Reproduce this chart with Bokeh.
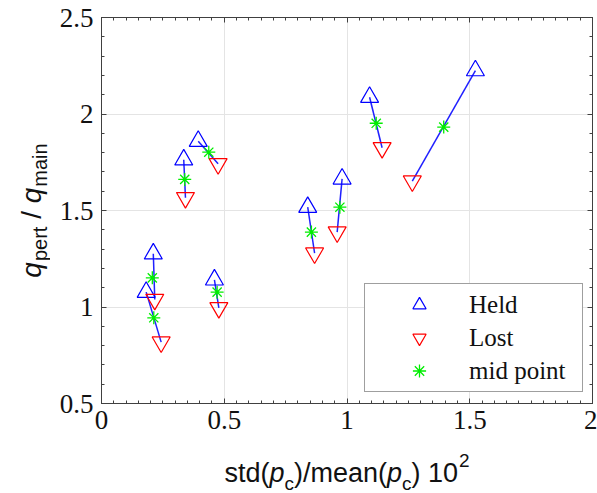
from math import pi
from bokeh.plotting import figure
from bokeh.layouts import row, column
from bokeh.models import (Legend, LegendItem, LinearAxis, Range1d, ColumnDataSource,
                          SingleIntervalTicker, CustomJSTickFormatter)
from bokeh.core.properties import value, field
from bokeh.embed import file_html
from bokeh.resources import INLINE

# ---- data ----
held_x = [0.211, 0.182, 0.460, 0.394, 0.335, 0.840, 0.980, 1.092, 1.523]
held_y = [1.276, 1.077, 1.141, 1.859, 1.763, 1.517, 1.664, 2.087, 2.225]
lost_x = [0.217, 0.243, 0.478, 0.475, 0.342, 0.868, 0.960, 1.143, 1.266]
lost_y = [1.039, 0.818, 0.996, 1.742, 1.566, 1.279, 1.388, 1.825, 1.652]
mid_x = [0.207, 0.213, 0.471, 0.437, 0.339, 0.855, 0.971, 1.119, 1.394]
mid_y = [1.151, 0.944, 1.077, 1.802, 1.661, 1.388, 1.517, 1.952, 1.932]

x_ticks = [0, 0.5, 1, 1.5, 2]
x_tick_labels = ["0", "0.5", "1", "1.5", "2"]
y_ticks = [0.5, 1, 1.5, 2, 2.5]
y_tick_labels = ["0.5", "1", "1.5", "2", "2.5"]
legend_labels = ["Held", "Lost", "mid point"]

FRAME_C = "#404040"
TEXT_C = "#111111"
SERIF = "Liberation Serif"
SANS = "Liberation Sans"

# page geometry
PAGE_W, PAGE_H = 597, 493
YLAB_W = 50          # left strip holding the y title
XLAB_H = 48          # bottom strip holding the x title
FL, FR, FT, FB = 101, 592, 17, 403   # frame edges on the page

MAIN_W = PAGE_W - YLAB_W
MAIN_H = PAGE_H - XLAB_H

p = figure(width=MAIN_W, height=MAIN_H, output_backend="svg", toolbar_location=None,
           x_range=Range1d(x_ticks[0], x_ticks[-1]), y_range=Range1d(y_ticks[0], y_ticks[-1]),
           min_border_left=FL - YLAB_W, min_border_right=PAGE_W - FR,
           min_border_top=FT, min_border_bottom=MAIN_H - FB,
           background_fill_color="white", border_fill_color="white")
p.outline_line_color = FRAME_C
p.outline_line_width = 1

xt = SingleIntervalTicker(interval=0.5, num_minor_ticks=10)
yt = SingleIntervalTicker(interval=0.5, num_minor_ticks=5)

def style_axis(ax):
    ax.axis_line_color = FRAME_C
    ax.major_tick_line_color = FRAME_C
    ax.minor_tick_line_color = FRAME_C
    ax.major_tick_in = 5
    ax.major_tick_out = 0
    ax.minor_tick_in = 3
    ax.minor_tick_out = 0
    ax.major_label_text_font = SERIF
    ax.major_label_text_font_size = "27px"
    ax.major_label_text_color = TEXT_C

p.xaxis.ticker = xt
p.yaxis.ticker = yt
p.xaxis.major_label_overrides = dict(zip(x_ticks, x_tick_labels))
p.yaxis.major_label_overrides = dict(zip(y_ticks, y_tick_labels))
style_axis(p.xaxis[0])
style_axis(p.yaxis[0])
p.xaxis.major_label_standoff = 7
p.yaxis.major_label_standoff = 8

empty = CustomJSTickFormatter(code="return ''")
top_ax = LinearAxis(ticker=xt, formatter=empty, major_label_standoff=0)
right_ax = LinearAxis(ticker=yt, formatter=empty, major_label_standoff=0)
style_axis(top_ax)
style_axis(right_ax)
p.add_layout(top_ax, "above")
p.add_layout(right_ax, "right")

p.xgrid.ticker = xt
p.ygrid.ticker = yt
p.xgrid.grid_line_color = "#e4e4e4"
p.ygrid.grid_line_color = "#e4e4e4"

# ---- glyphs ----
p.segment(x0=held_x, y0=held_y, x1=lost_x, y1=lost_y, line_color="#2020ff", line_width=1.5)
r_held = p.scatter(held_x, held_y, marker="triangle", size=18, fill_color=None,
                   line_color="#0000ff", line_width=1.2)
r_lost = p.scatter(lost_x, lost_y, marker="inverted_triangle", size=18, fill_color=None,
                   line_color="#ff0000", line_width=1.2)
r_mid = p.scatter(mid_x, mid_y, marker="asterisk", size=13,
                  line_color="#00ee00", line_width=1.3)

legend = Legend(items=[LegendItem(label=legend_labels[0], renderers=[r_held]),
                       LegendItem(label=legend_labels[1], renderers=[r_lost]),
                       LegendItem(label=legend_labels[2], renderers=[r_mid])],
                location=(364 - FL, FB - 392), orientation="vertical",
                glyph_width=100, glyph_height=33, label_width=109, label_height=20,
                label_standoff=0, spacing=0, padding=4, margin=0,
                label_text_font=SERIF, label_text_font_size="25px",
                label_text_color=TEXT_C,
                border_line_color=FRAME_C, border_line_width=1.5,
                background_fill_color="white", background_fill_alpha=1.0)
p.add_layout(legend)

# ---- axis titles, drawn as text in strips whose frames line up with the page ----
W = {'s': 500, 't': 278, 'd': 556, '(': 333, ')': 333, '/': 278, 'm': 833, 'e': 556,
     'a': 556, 'n': 556, ' ': 278, '1': 556, '0': 556, '2': 556, 'p': 556, 'c': 500,
     'q': 556, 'r': 333, 'i': 222}

def tw(s, size):
    return sum(W[ch] for ch in s) * size / 1000.0

def strip(w, h, xr, yr, bl, br, bt, bb):
    f = figure(width=w, height=h, output_backend="svg", toolbar_location=None,
               x_range=Range1d(*xr), y_range=Range1d(*yr),
               x_axis_location=None, y_axis_location=None,
               min_border_left=bl, min_border_right=br, min_border_top=bt, min_border_bottom=bb,
               background_fill_color="white", border_fill_color="white")
    f.outline_line_color = None
    f.grid.visible = False
    return f

# x title (data coords: x = page x, y = -page y)
MAIN, SUB = 27, 19
xpieces = [("std(", "normal", MAIN, 0, 0), ("p", "italic", MAIN, 0, 0), ("c", "normal", SUB, 11, 0),
           (")/mean(", "normal", MAIN, 0, 0), ("p", "italic", MAIN, 0, 0), ("c", "normal", SUB, 11, 0),
           (") 10", "normal", MAIN, 0, 0), ("2", "normal", SUB, -12, 1)]
xs, ys, ts, sts, szs = [], [], [], [], []
total = sum(tw(t, s) + g for t, _, s, _, g in xpieces)
px = (FL + FR) / 2.0 - total / 2.0
base_y = 472
for t, st, s, dy, g in xpieces:
    px += g
    xs.append(px)
    ys.append(-(base_y + dy))
    ts.append(t); sts.append(st); szs.append(f"{s}px")
    px += tw(t, s)
fx = strip(PAGE_W, XLAB_H, (FL, FR), (-PAGE_H, -MAIN_H), FL, PAGE_W - FR, 0, 0)
fx.text(x="x", y="y", text="text", source=ColumnDataSource(dict(x=xs, y=ys, text=ts, st=sts, sz=szs)),
        text_font=value(SANS), text_font_style=field("st"), text_font_size=field("sz"),
        text_align=value("left"), text_baseline=value("alphabetic"), text_color=TEXT_C)

# y title (data coords: x = page x, y = -page y), reads bottom to top
YMAIN, YSUB = 28, 20
GAP = tw(" ", YMAIN)
ypieces = [("q", "italic", YMAIN, 0, 0), ("pert", "normal", YSUB, 8, 1), ("/", "normal", YMAIN, 0, GAP),
           ("q", "italic", YMAIN, 0, GAP), ("main", "normal", YSUB, 8, 1)]
xs, ys, ts, sts, szs = [], [], [], [], []
ytotal = sum(tw(t, s) + g for t, _, s, _, g in ypieces)
py = (FT + FB) / 2.0 + ytotal / 2.0
base_x = 31
for t, st, s, dx, g in ypieces:
    py -= g
    xs.append(base_x + dx)
    ys.append(-py)
    ts.append(t); sts.append(st); szs.append(f"{s}px")
    py -= tw(t, s)
fy = strip(YLAB_W, MAIN_H, (0, YLAB_W), (-FB, -FT), 0, 0, FT, MAIN_H - FB)
fy.text(x="x", y="y", text="text", source=ColumnDataSource(dict(x=xs, y=ys, text=ts, st=sts, sz=szs)),
        angle=pi / 2, text_font=value(SANS), text_font_style=field("st"), text_font_size=field("sz"),
        text_align=value("left"), text_baseline=value("alphabetic"), text_color=TEXT_C)

layout = column(row(fy, p, spacing=0), fx, spacing=0)
open("out.html", "w").write(file_html(layout, INLINE))
